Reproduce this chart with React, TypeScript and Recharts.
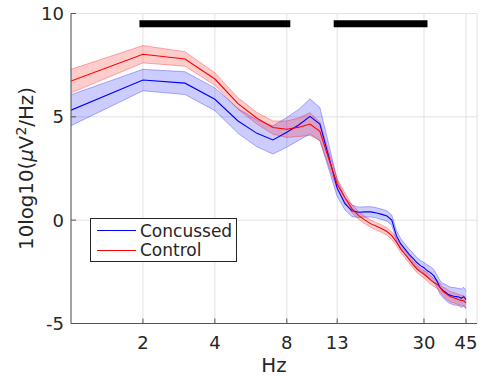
import React from "react";
import { ComposedChart, Line, Area, XAxis, YAxis, CartesianGrid } from "recharts";

// frequency bins (Hz)
const freqs = [
  1, 2, 3, 4, 5, 6, 7, 8, 9, 10, 11, 12, 13, 14, 15, 16, 17, 18, 19, 20, 21, 22,
  23, 24, 25, 26, 27, 28, 29, 30, 31, 32, 33, 34, 35, 36, 37, 38, 39, 40, 41,
  42, 43, 44, 45,
];

// power, 10log10(uV^2/Hz)
const concussedMean = [
  5.32, 6.78, 6.63, 5.85, 4.8, 4.2, 3.88, 4.25, 4.62, 5.02, 4.65, 3.05, 1.55,
  0.8, 0.45, 0.38, 0.4, 0.4, 0.35, 0.28, 0.2, 0.0, -0.75, -1.15, -1.4, -1.65,
  -1.85, -2.05, -2.2, -2.3, -2.45, -2.55, -2.7, -2.95, -3.25, -3.4, -3.5, -3.6,
  -3.65, -3.68, -3.7, -3.72, -3.78, -3.7, -3.85,
];
const concussedErr = [
  0.75, 0.52, 0.55, 0.55, 0.6, 0.65, 0.68, 0.72, 0.75, 0.85, 0.8, 0.6, 0.4,
  0.3, 0.28, 0.25, 0.25, 0.25, 0.25, 0.25, 0.25, 0.25, 0.25, 0.25, 0.25, 0.25,
  0.25, 0.25, 0.25, 0.25, 0.28, 0.3, 0.3, 0.3, 0.32, 0.35, 0.38, 0.4, 0.4,
  0.42, 0.42, 0.42, 0.45, 0.45, 0.45,
];
const controlMean = [
  6.73, 8.03, 7.8, 6.83, 5.64, 4.93, 4.48, 4.4, 4.5, 4.65, 4.3, 2.95, 1.75,
  1.1, 0.55, 0.22, 0.0, -0.18, -0.3, -0.42, -0.55, -0.75, -1.05, -1.4, -1.65,
  -1.9, -2.15, -2.35, -2.5, -2.62, -2.75, -2.9, -3.02, -3.1, -3.25, -3.45,
  -3.55, -3.65, -3.72, -3.75, -3.8, -3.85, -3.88, -3.9, -4.0,
];
const controlErr = [
  0.57, 0.42, 0.35, 0.3, 0.28, 0.28, 0.32, 0.4, 0.45, 0.55, 0.45, 0.35, 0.25,
  0.22, 0.2, 0.18, 0.18, 0.18, 0.18, 0.18, 0.18, 0.18, 0.18, 0.18, 0.18, 0.18,
  0.18, 0.18, 0.18, 0.18, 0.2, 0.2, 0.2, 0.2, 0.2, 0.2, 0.25, 0.25, 0.25, 0.25,
  0.25, 0.25, 0.25, 0.25, 0.25,
];

const xTicks = [2, 4, 8, 13, 30, 45];
const yTicks = [-5, 0, 5, 10];

// significant ranges, drawn as black bars near the top
const sigRanges = [
  [2, 8],
  [13, 30],
];
const sigLevel = 9.5;

const data = freqs.map((f, i) => ({
  f,
  conc: concussedMean[i],
  concBand: [concussedMean[i] - concussedErr[i], concussedMean[i] + concussedErr[i]],
  ctrl: controlMean[i],
  ctrlBand: [controlMean[i] - controlErr[i], controlMean[i] + controlErr[i]],
}));

const sigData = sigRanges.map(([a, b]) => [
  { f: a, y: sigLevel },
  { f: b, y: sigLevel },
]);

const W = 482;
const H = 377;
const font = '"DejaVu Sans", sans-serif';
const ink = "#262626";
const axisColor = "#555555";

export default function App() {
  return (
    <div
      style={{
        position: "absolute",
        left: 0,
        top: 0,
        width: W,
        height: H,
        background: "#fff",
        fontFamily: font,
      }}
    >
      <ComposedChart
        width={W}
        height={H}
        data={data}
        margin={{ top: 13.5, right: 5, bottom: 23.5, left: 31 }}
      >
        <CartesianGrid stroke="#e2e2e2" />
        <XAxis
          dataKey="f"
          type="number"
          scale="log"
          domain={[1, 50]}
          ticks={xTicks}
          allowDataOverflow
          height={30}
          tickSize={-5}
          tickMargin={17.5}
          stroke={axisColor}
          tick={{ fill: ink, fontSize: 18, fontFamily: font }}
        />
        <XAxis
          xAxisId="top"
          orientation="top"
          dataKey="f"
          type="number"
          scale="log"
          domain={[1, 50]}
          ticks={xTicks}
          allowDataOverflow
          height={0}
          tickSize={-5}
          tick={false}
          stroke={axisColor}
        />
        <YAxis
          type="number"
          domain={[-5, 10]}
          ticks={yTicks}
          allowDataOverflow
          width={40}
          tickSize={-5}
          tickMargin={12}
          stroke={axisColor}
          tick={{ fill: ink, fontSize: 18, fontFamily: font }}
        />
        <YAxis
          yAxisId="right"
          orientation="right"
          type="number"
          domain={[-5, 10]}
          ticks={yTicks}
          allowDataOverflow
          width={0}
          tickSize={-5}
          tick={false}
          stroke={axisColor}
        />
        <Area
          dataKey="concBand"
          type="linear"
          stroke="rgba(0,0,255,0.3)"
          strokeWidth={1}
          fill="rgba(0,0,255,0.2)"
          fillOpacity={1}
          dot={false}
          activeDot={false}
          isAnimationActive={false}
        />
        <Area
          dataKey="ctrlBand"
          type="linear"
          stroke="rgba(255,0,0,0.3)"
          strokeWidth={1}
          fill="rgba(255,0,0,0.2)"
          fillOpacity={1}
          dot={false}
          activeDot={false}
          isAnimationActive={false}
        />
        <Line
          dataKey="conc"
          type="linear"
          stroke="#0000ff"
          strokeWidth={1.1}
          dot={false}
          activeDot={false}
          isAnimationActive={false}
        />
        <Line
          dataKey="ctrl"
          type="linear"
          stroke="#ff0000"
          strokeWidth={1.1}
          dot={false}
          activeDot={false}
          isAnimationActive={false}
        />
        {sigData.map((d, i) => (
          <Line
            key={i}
            data={d}
            dataKey="y"
            type="linear"
            stroke="#000"
            strokeWidth={7}
            strokeLinecap="square"
            dot={false}
            activeDot={false}
            isAnimationActive={false}
          />
        ))}
      </ComposedChart>

      <svg
        width={W}
        height={H}
        style={{ position: "absolute", left: 0, top: 0, pointerEvents: "none" }}
      >
        {/* axis labels */}
        <text
          transform="translate(32.5,168.5) rotate(-90)"
          textAnchor="middle"
          fontFamily={font}
          fontSize={19.8}
          fill={ink}
        >
          10log10(
          <tspan fontStyle="italic">μ</tspan>V
          <tspan dy={-7} fontSize={14}>
            2
          </tspan>
          <tspan dy={7}>/Hz)</tspan>
        </text>
        <text
          x={274}
          y={371.5}
          textAnchor="middle"
          fontFamily={font}
          fontSize={19.8}
          fill={ink}
        >
          Hz
        </text>

        {/* legend */}
        <rect x={90.5} y={218.5} width={146} height={43} fill="#fff" stroke={ink} strokeWidth={1} />
        <line x1={97} x2={136} y1={230.5} y2={230.5} stroke="#0000ff" strokeWidth={1} />
        <line x1={97} x2={136} y1={250.5} y2={250.5} stroke="#ff0000" strokeWidth={1} />
        <text x={140} y={236.5} fontFamily={font} fontSize={17} fill={ink}>
          Concussed
        </text>
        <text x={140} y={255.5} fontFamily={font} fontSize={17} fill={ink}>
          Control
        </text>
      </svg>
    </div>
  );
}
